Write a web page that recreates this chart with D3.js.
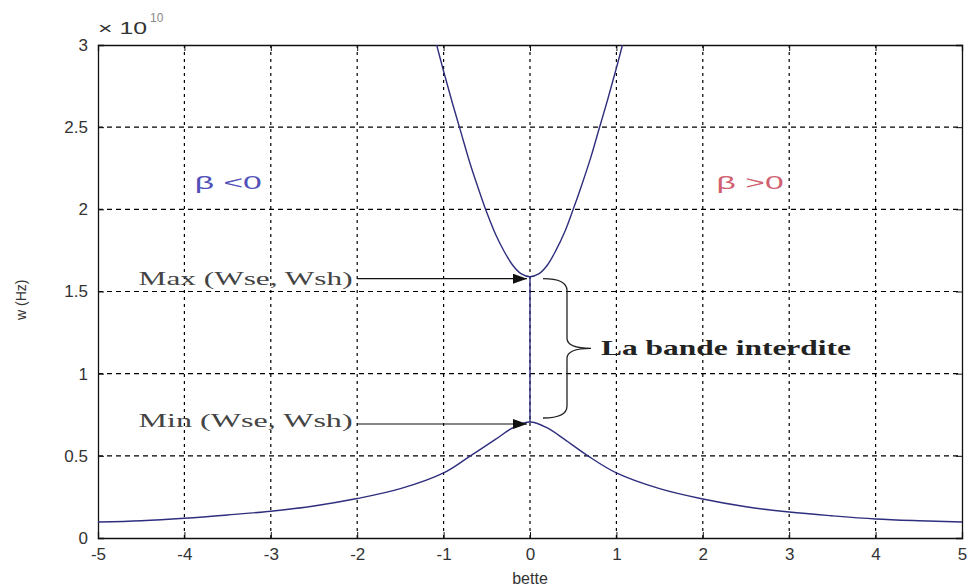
<!DOCTYPE html>
<html>
<head>
<meta charset="utf-8">
<script src="https://cdn.jsdelivr.net/npm/d3@7"></script>
<style>
  html, body { margin: 0; padding: 0; background: #fff; }
  svg { display: block; }
</style>
</head>
<body>
<svg id="chart" width="968" height="588"></svg>
<script>
// Axis ticks
const xTicks = [-5, -4, -3, -2, -1, 0, 1, 2, 3, 4, 5];
const xTickLabels = ["-5", "-4", "-3", "-2", "-1", "0", "1", "2", "3", "4", "5"];
const yTicks = [0, 0.5, 1, 1.5, 2, 2.5, 3];
const yTickLabels = ["0", "0.5", "1", "1.5", "2", "2.5", "3"];

// Upper branch: beta and w (x 1e10 Hz)
const upperBeta = [-1.1, -1.0, -0.9, -0.8, -0.7, -0.6, -0.5, -0.4, -0.3, -0.2, -0.1, 0, 0.1, 0.2, 0.3, 0.4, 0.5, 0.6, 0.7, 0.8, 0.9, 1.0, 1.1];
const upperW    = [3.04, 2.84, 2.65, 2.47, 2.29, 2.13, 1.98, 1.85, 1.745, 1.66, 1.607, 1.59, 1.607, 1.66, 1.75, 1.86, 2.0, 2.15, 2.31, 2.49, 2.67, 2.86, 3.06];

// Lower branch: beta and w (x 1e10 Hz)
const lowerBeta = [-5, -4.5, -4, -3.5, -3, -2.5, -2, -1.5, -1, -0.69, -0.4, -0.2, 0, 0.2, 0.4, 0.67, 1, 1.5, 2, 2.5, 3, 3.5, 4, 4.5, 5];
const lowerW    = [0.097, 0.105, 0.12, 0.14, 0.163, 0.195, 0.24, 0.3, 0.396, 0.5, 0.6, 0.67, 0.706, 0.67, 0.6, 0.5, 0.396, 0.3, 0.237, 0.19, 0.158, 0.135, 0.116, 0.105, 0.097];

// Band-gap edges
const gapTop = 1.59;
const gapBottom = 0.706;

const svg = d3.select("#chart");
const W = 968, H = 588;
const m = { left: 98, right: 6, top: 45, bottom: 50 };
const pw = W - m.left - m.right, ph = H - m.top - m.bottom;

const x = d3.scaleLinear().domain([-5, 5]).range([m.left, m.left + pw]);
const y = d3.scaleLinear().domain([0, 3]).range([m.top + ph, m.top]);

const tickFont = "'Liberation Sans', Arial, sans-serif";
const serif = "'Liberation Serif', 'Times New Roman', serif";
const lineColor = "#2e2e7e";

// Grid
const grid = svg.append("g");
grid.selectAll("line.v").data(xTicks.slice(1, -1)).enter().append("line")
  .attr("x1", d => x(d)).attr("x2", d => x(d))
  .attr("y1", m.top).attr("y2", m.top + ph)
  .attr("stroke", "#000").attr("stroke-width", 1.2).attr("stroke-dasharray", "3,4");
grid.selectAll("line.h").data(yTicks.slice(1, -1)).enter().append("line")
  .attr("x1", m.left).attr("x2", m.left + pw)
  .attr("y1", d => y(d)).attr("y2", d => y(d))
  .attr("stroke", "#000").attr("stroke-width", 1.2).attr("stroke-dasharray", "5,4");

// Axes (inward ticks on all sides)
const axB = d3.axisBottom(x).tickValues(xTicks).tickSize(-6).tickPadding(10).tickFormat((d, i) => xTickLabels[i]);
const axL = d3.axisLeft(y).tickValues(yTicks).tickSize(-6).tickPadding(10).tickFormat((d, i) => yTickLabels[i]);
const axT = d3.axisTop(x).tickValues(xTicks).tickSize(-6).tickFormat("");
const axR = d3.axisRight(y).tickValues(yTicks).tickSize(-6).tickFormat("");

function styleAxis(g) {
  g.select(".domain").attr("stroke", "#111").attr("stroke-width", 1.3);
  g.selectAll(".tick line").attr("stroke", "#111");
  g.selectAll(".tick text").attr("fill", "#333").style("font-family", tickFont).style("font-size", "17px");
}
svg.append("g").attr("transform", `translate(0,${m.top + ph})`).call(axB).call(styleAxis);
svg.append("g").attr("transform", `translate(${m.left},0)`).call(axL).call(styleAxis);
svg.append("g").attr("transform", `translate(0,${m.top})`).call(axT).call(styleAxis);
svg.append("g").attr("transform", `translate(${m.left + pw},0)`).call(axR).call(styleAxis);

// Exponent label
svg.append("text").attr("x", m.left).attr("y", 34)
  .style("font-family", tickFont).style("font-size", "17px").attr("fill", "#333")
  .attr("textLength", 49).attr("lengthAdjust", "spacingAndGlyphs").text("× 10");
svg.append("text").attr("x", m.left + 52).attr("y", 22)
  .style("font-family", tickFont).style("font-size", "12px").attr("fill", "#888").text("10");

// Axis titles
svg.append("text").attr("x", x(0)).attr("y", 584).attr("text-anchor", "middle")
  .style("font-family", tickFont).style("font-size", "16px").attr("fill", "#333").text("bette");
svg.append("text").attr("transform", `translate(26,${y(1.45)}) rotate(-90)`).attr("text-anchor", "middle")
  .style("font-family", tickFont).style("font-size", "14px").attr("fill", "#333").text("w (Hz)");

// Curves, clipped to the plot box
svg.append("clipPath").attr("id", "plotClip").append("rect")
  .attr("x", m.left).attr("y", m.top).attr("width", pw).attr("height", ph);
const line = d3.line().x(d => x(d[0])).y(d => y(d[1])).curve(d3.curveCatmullRom);
const straight = d3.line().x(d => x(d[0])).y(d => y(d[1]));
const curves = svg.append("g").attr("clip-path", "url(#plotClip)");
curves.append("path").datum(upperBeta.map((b, i) => [b, upperW[i]]))
  .attr("d", line).attr("fill", "none").attr("stroke", lineColor).attr("stroke-width", 1.4);
curves.append("path").datum(lowerBeta.map((b, i) => [b, lowerW[i]]))
  .attr("d", line).attr("fill", "none").attr("stroke", lineColor).attr("stroke-width", 1.4);
curves.append("path").datum([[0, gapBottom], [0, gapTop]])
  .attr("d", straight).attr("fill", "none").attr("stroke", lineColor).attr("stroke-width", 1.4);

// Arrow marker
const defs = svg.append("defs");
defs.append("marker").attr("id", "arrowHead").attr("viewBox", "0 0 14 10")
  .attr("refX", 14).attr("refY", 5).attr("markerWidth", 14).attr("markerHeight", 10)
  .attr("markerUnits", "userSpaceOnUse").attr("orient", "auto")
  .append("path").attr("d", "M0,0 L14,5 L0,10 Z").attr("fill", "#111");

// Max / Min annotations
const notes = [
  { label: "Max (Wse, Wsh)", w: gapTop, dy: 8 },
  { label: "Min (Wse, Wsh)", w: gapBottom, dy: 5 }
];
notes.forEach(n => {
  svg.append("text").attr("x", x(-4.53)).attr("y", y(n.w) + n.dy)
    .style("font-family", serif).style("font-size", "19px").attr("fill", "#444")
    .attr("textLength", 214).attr("lengthAdjust", "spacingAndGlyphs").text(n.label);
  svg.append("line").attr("x1", x(-2.0)).attr("x2", x(0) - 3)
    .attr("y1", y(n.w) + 2).attr("y2", y(n.w) + 2)
    .attr("stroke", "#111").attr("stroke-width", 1.2).attr("marker-end", "url(#arrowHead)");
});

// Curly brace spanning the band gap
const bx = x(0) + 13, bTop = y(gapTop) + 2, bBot = y(gapBottom) - 4, bMid = (bTop + bBot) / 2;
const bv = bx + 24, tip = bv + 24;
svg.append("path")
  .attr("d", `M${bx},${bTop} Q${bv},${bTop} ${bv},${bTop + 12} L${bv},${bMid - 10} Q${bv},${bMid} ${tip},${bMid}
              Q${bv},${bMid} ${bv},${bMid + 10} L${bv},${bBot - 12} Q${bv},${bBot} ${bx},${bBot}`)
  .attr("fill", "none").attr("stroke", "#222").attr("stroke-width", 1.3);
svg.append("text").attr("x", tip + 10).attr("y", bMid + 7)
  .style("font-family", serif).style("font-size", "21px").style("font-weight", "bold")
  .attr("textLength", 250).attr("lengthAdjust", "spacingAndGlyphs")
  .attr("fill", "#222").text("La bande interdite");

// Region labels
svg.append("text").attr("x", x(-3.88)).attr("y", y(2.16) + 6)
  .style("font-family", tickFont).style("font-size", "19px")
  .attr("textLength", 67).attr("lengthAdjust", "spacingAndGlyphs")
  .attr("fill", "#5050b8").text("β <0");
svg.append("text").attr("x", x(2.16)).attr("y", y(2.16) + 6)
  .style("font-family", tickFont).style("font-size", "19px")
  .attr("textLength", 67).attr("lengthAdjust", "spacingAndGlyphs")
  .attr("fill", "#d06070").text("β >0");
</script>
</body>
</html>
